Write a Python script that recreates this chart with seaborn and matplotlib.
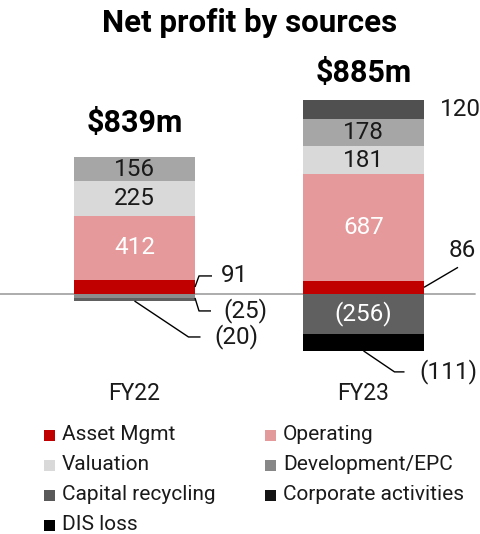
import matplotlib
matplotlib.use("Agg")
import matplotlib.pyplot as plt
import seaborn as sns
import numpy as np
from matplotlib.patches import Rectangle

# ---------------- data ----------------
years = ["FY22", "FY23"]
totals = ["$839m", "$885m"]
asset_mgmt = [91, 86]
operating = [412, 687]
valuation = [225, 181]
development_epc = [156, 178]
corporate_activities = [-25, 120]
capital_recycling = [-20, -256]
dis_loss = [0, -111]

legend_names = ["Asset Mgmt", "Operating", "Valuation", "Development/EPC",
                "Capital recycling", "Corporate activities", "DIS loss"]
legend_colors = ["#C00000", "#E39A9A", "#D9D9D9", "#878787",
                 "#595959", "#141414", "#000000"]

# series: name, values, per-bar colours, label style per bar
series = [
    ("Asset Mgmt", asset_mgmt, ["#C00000", "#C00000"], ["out", "out"]),
    ("Operating", operating, ["#E6999A", "#E6999A"], ["white", "white"]),
    ("Valuation", valuation, ["#D9D9D9", "#D9D9D9"], ["dark", "dark"]),
    ("Development/EPC", development_epc, ["#A6A6A6", "#A6A6A6"], ["dark", "dark"]),
    ("Corporate activities", corporate_activities, ["#8C8C8C", "#505050"], ["out", "out"]),
    ("Capital recycling", capital_recycling, ["#606060", "#606060"], ["out", "white"]),
    ("DIS loss", dis_loss, ["#000000", "#000000"], ["none", "out"]),
]

sns.set_theme(style="white")
plt.rcParams['font.family'] = ['Roboto', 'DejaVu Sans']

W, H = 481, 534
fig = plt.figure(figsize=(W / 100, H / 100), dpi=100)
ax = fig.add_axes([0, 0, 1, 1])
ax.axis('off')
X0, DX, Y0, SY = 134.5, 229.0, 294.0, 0.155
ax.set_xlim(-X0 / DX, (W - X0) / DX)
ax.set_ylim(-(H - Y0) / SY, Y0 / SY)


def P(xpx, ypx):
    return ((xpx - X0) / DX, (Y0 - ypx) / SY)


def toPx(x, y):
    return (x * DX + X0, Y0 - y * SY)


xpos = np.arange(len(years))
bw = 121 / DX
pos_base = np.zeros(len(years))
neg_base = np.zeros(len(years))
segs = {}
for name, vals, cols, styles in series:
    v = np.array(vals, float)
    bottoms = np.where(v >= 0, pos_base, neg_base)
    ax.bar(xpos, v, bw, bottom=bottoms, color=cols, linewidth=0, zorder=2)
    for i in range(len(v)):
        segs[(name, i)] = (bottoms[i], bottoms[i] + v[i], v[i], styles[i])
    pos_base += np.where(v > 0, v, 0)
    neg_base += np.where(v < 0, v, 0)

# baseline
ax.plot([P(0, 0)[0], P(475, 0)[0]], [0, 0], color="#A6A6A6", lw=1.3, zorder=1)

FS = 17.5
TXT = "#1A1A1A"


def fmt(v):
    return f"({abs(int(v))})" if v < 0 else f"{int(v)}"


# leader specs: (anchor kind, path offsets px, label offset px, ha)
leaders = {
    ("Asset Mgmt", 0): ("edge", [(0, 0), (4, -11), (17, -11)], (26, -11), "left"),
    ("Corporate activities", 0): ("edge", [(0, 2), (4, 15), (16, 15)], (28, 15), "left"),
    ("Capital recycling", 0): ("bottom", [(0, 0), (54, 36), (66, 36)], (80, 36), "left"),
    ("Asset Mgmt", 1): ("edge", [(0, 0), (34, -20)], (38, -37), "center"),
    ("Corporate activities", 1): ("edge", [], (16, 0), "left"),
    ("DIS loss", 1): ("bottom", [(0, 0), (31, 21), (41, 21)], (56, 21), "left"),
}

for (name, i), (b, t, v, style) in segs.items():
    if style == "none":
        continue
    mid = (b + t) / 2
    if style in ("white", "dark"):
        ax.text(xpos[i], mid, fmt(v), ha="center", va="center", fontsize=FS,
                color="white" if style == "white" else TXT, zorder=3)
        continue
    kind, path, lab, ha = leaders[(name, i)]
    if kind == "edge":
        ax_px = toPx(xpos[i] + bw / 2, mid)
    else:
        ax_px = toPx(xpos[i], neg_base[i])
    if path:
        xs, ys = zip(*[P(ax_px[0] + dx, ax_px[1] + dy) for dx, dy in path])
        ax.plot(xs, ys, color="black", lw=1, zorder=3, solid_capstyle="butt")
    lx, ly = P(ax_px[0] + lab[0], ax_px[1] + lab[1])
    ax.text(lx, ly, fmt(v), ha=ha, va="center", fontsize=FS, color=TXT, zorder=3)

# totals above bars
total_off = [34, 27]
for i in range(len(years)):
    tx, ty = toPx(xpos[i], pos_base[i])
    ax.text(*P(tx, ty - total_off[i]), totals[i], ha="center", va="center",
            fontsize=22, fontweight="bold", color="black")
    ax.text(*P(tx, 394), years[i], ha="center", va="center", fontsize=16.5, color=TXT)

# title
ax.text(*P(250, 23), "Net profit by sources", ha="center", va="center",
        fontsize=22.5, fontweight="bold", color="black")

# legend (manual, row-wise 2 columns)
for k, (nm, c) in enumerate(zip(legend_names, legend_colors)):
    row, col = divmod(k, 2)
    sx = [44, 265][col]
    cy = 435 + 30 * row
    x0, y0 = P(sx, cy + 5.5)
    x1, y1 = P(sx + 11, cy - 5.5)
    ax.add_patch(Rectangle((x0, y0), x1 - x0, y1 - y0, color=c, lw=0))
    ax.text(*P(sx + 18, cy - 1), nm, ha="left", va="center", fontsize=15, color=TXT)

fig.savefig("out.png", dpi=100)
